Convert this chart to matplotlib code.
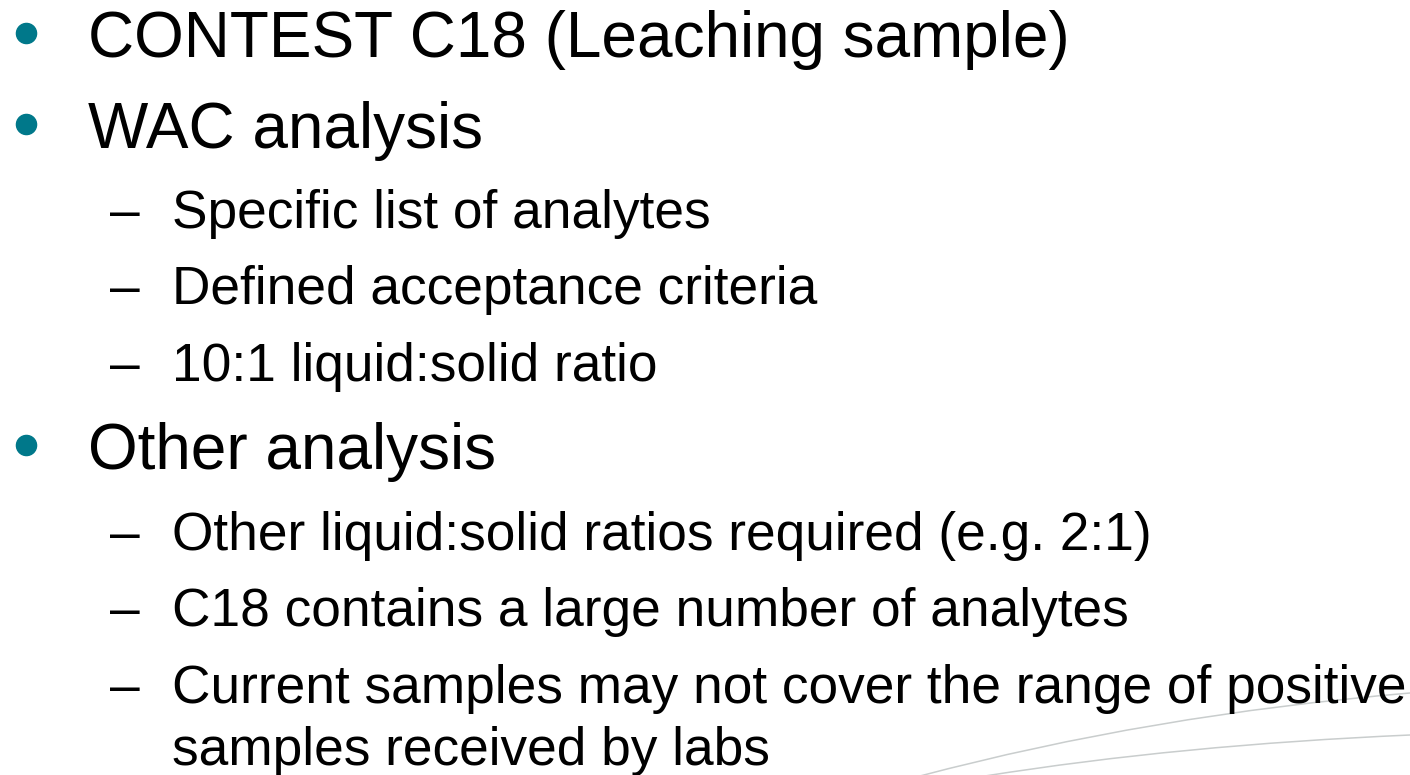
import matplotlib
matplotlib.use("Agg")
import matplotlib.pyplot as plt
from matplotlib.path import Path
from matplotlib.patches import PathPatch

# contenu de la diapositive
niveaux = [1, 1, 2, 2, 2, 1, 2, 2, 2, 0]
lignes = [
    "CONTEST C18 (Leaching sample)",
    "WAC analysis",
    "Specific list of analytes",
    "Defined acceptance criteria",
    "10:1 liquid:solid ratio",
    "Other analysis",
    "Other liquid:solid ratios required (e.g. 2:1)",
    "C18 contains a large number of analytes",
    "Current samples may not cover the range of positive",
    "samples received by labs",
]
bases = [57, 148, 228, 304, 381, 469, 550, 626, 703, 765]

W, H = 1410, 775
fig = plt.figure(figsize=(W / 100, H / 100), dpi=100)
ax = fig.add_axes([0, 0, 1, 1])
ax.set_xlim(0, W)
ax.set_ylim(H, 0)
ax.axis("off")

police = "Liberation Sans"
teal = "#00788A"
t1, t2 = 46, 38.3

for niv, txt, y in zip(niveaux, lignes, bases):
    if niv == 1:
        ax.plot(26, y - 24, "o", color=teal, markersize=14.5)
        ax.text(88, y, txt, fontsize=t1, family=police, va="baseline", ha="left")
    elif niv == 2:
        ax.text(110, y, "\u2013", fontsize=t2, family=police, va="baseline", ha="left")
        ax.text(172, y, txt, fontsize=t2, family=police, va="baseline", ha="left")
    else:
        ax.text(172, y, txt, fontsize=t2, family=police, va="baseline", ha="left")

# courbes décoratives en bas à droite
for pts in ([(920, 776), (1150, 715), (1410, 693)],
            [(985, 776), (1180, 745), (1410, 735)]):
    p = Path(pts, [Path.MOVETO, Path.CURVE3, Path.CURVE3])
    ax.add_patch(PathPatch(p, fill=False, edgecolor="#c9cdcd", lw=1.1))

fig.savefig("out.png", dpi=100)
